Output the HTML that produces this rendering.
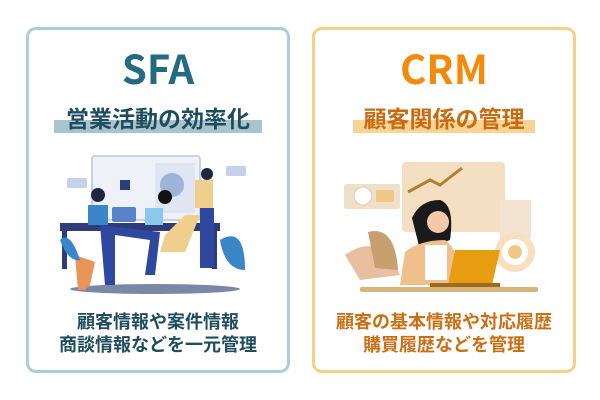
<!DOCTYPE html>
<html><head><meta charset="utf-8"><style>
body{margin:0;width:600px;height:400px;background:#fff;position:relative;overflow:hidden;font-family:"Noto Sans CJK JP","Liberation Sans",sans-serif}
.card{position:absolute;top:27px;width:258px;height:340px;border:3px solid;border-radius:10px;background:#fff}
.t{position:absolute;left:0;width:100%;text-align:center;font-weight:bold}
</style></head><body>
<div class="card" style="left:26px;border-color:#b0ccd6"></div>
<div class="card" style="left:312px;border-color:#f8cf8a"></div>

<div style="position:absolute;left:54px;top:120px;width:208px;height:13px;background:#a9c4cc"></div>
<div style="position:absolute;left:353px;top:120px;width:182px;height:13px;background:#fad494"></div>

<div class="t" style="left:26px;width:264px;top:42px;font-size:40px;color:#246a80;line-height:50px;font-family:'Noto Sans CJK JP','DejaVu Sans',sans-serif">SFA</div>
<div class="t" style="left:26px;width:264px;top:102px;font-size:23px;color:#1e4e5e;line-height:30px">営業活動の効率化</div>
<div class="t" style="left:26px;width:264px;top:310px;font-size:18px;color:#1f4d5e;line-height:23px">顧客情報や案件情報<br>商談情報などを一元管理</div>

<div class="t" style="left:312px;width:264px;top:42px;font-size:40px;color:#f58a0a;line-height:50px;font-family:'Noto Sans CJK JP','DejaVu Sans',sans-serif">CRM</div>
<div class="t" style="left:312px;width:264px;top:102px;font-size:23px;color:#c96b10;line-height:30px">顧客関係の管理</div>
<div class="t" style="left:312px;width:264px;top:310px;font-size:18px;color:#cc6e14;line-height:23px">顧客の基本情報や対応履歴<br>購買履歴などを管理</div>

<svg style="position:absolute;left:0;top:0" width="600" height="400">
<rect x="92" y="156" width="108" height="64" rx="3" fill="#eef1f8" stroke="#c9d0e6" stroke-width="2"/>
<rect x="155" y="163" width="40" height="50" fill="#dfe5f2"/>
<circle cx="172" cy="185" r="12" fill="#9fb3d8"/>
<rect x="120" y="180" width="10" height="10" fill="#2c3d7a"/>
<rect x="67" y="178" width="20" height="10" rx="2" fill="#c5d2ea"/>
<rect x="226" y="166" width="20" height="10" rx="2" fill="#c5d2ea"/>
<rect x="60" y="223" width="160" height="8" fill="#2e3d78"/>
<rect x="62" y="231" width="5" height="38" fill="#2e3d78"/>
<rect x="212" y="231" width="5" height="38" fill="#2e3d78"/>
<ellipse cx="155" cy="289" rx="85" ry="5" fill="#7c87a8"/>
<rect x="88" y="205" width="20" height="20" fill="#3a86c8"/>
<circle cx="98" cy="195" r="7" fill="#1e2640"/>
<rect x="112" y="207" width="24" height="15" rx="2" fill="#5a82c8"/>
<rect x="145" y="208" width="18" height="17" fill="#8cc8ee"/>
<circle cx="165" cy="197" r="7" fill="#111"/>
<path d="M165 235 L185 215 L200 215 L185 252 L160 252Z" fill="#f0cf8c"/>
<path d="M75 255 L95 262 L90 285 L85 290 L78 290Z" fill="#e8945a"/>
<path d="M60 240 Q70 230 80 260 Q68 262 60 240Z" fill="#3a86c8"/>
<path d="M220 240 Q245 225 245 270 Q225 270 220 240Z" fill="#3a86c8"/>
<rect x="195" y="180" width="18" height="28" fill="#f0cf8c"/>
<rect x="200" y="208" width="14" height="60" fill="#2e48a0"/>
<circle cx="207" cy="174" r="6" fill="#1e2640"/>
<path d="M100 225 L105 285 L115 285 L115 235 L150 240 L145 275 L155 275 L160 232Z" fill="#2e48a0"/>
<rect x="402" y="162" width="103" height="70" rx="4" fill="#f5dfc2"/>
<polyline points="408,192 430,180 440,185 462,168" fill="none" stroke="#b08030" stroke-width="3"/>
<rect x="344" y="184" width="56" height="25" rx="2" fill="#efe0cc"/>
<circle cx="363" cy="196" r="9" fill="#fff" stroke="#e8c898"/>
<rect x="376" y="190" width="18" height="12" fill="#f0c888"/>
<rect x="500" y="200" width="31" height="38" fill="#f2e4d0"/>
<circle cx="515" cy="252" r="20" fill="#f7e0c0"/>
<circle cx="515" cy="252" r="13" fill="#fff"/>
<circle cx="515" cy="252" r="7" fill="#f0c888"/>
<path d="M345 255 Q380 230 400 275 L360 280Z" fill="#e8c0a0"/>
<path d="M368 232 Q395 225 398 270 L375 268Z" fill="#c8a070"/>
<path d="M412 218 Q420 200 440 200 Q455 205 450 240 L420 250Z" fill="#1a1a1a"/>
<circle cx="438" cy="222" r="11" fill="#f5c8a8"/>
<path d="M405 252 Q420 240 445 240 Q460 250 460 285 L400 285Z" fill="#f0c08c"/>
<rect x="425" y="245" width="22" height="35" fill="#fff"/>
<path d="M455 250 L500 250 L492 285 L448 285Z" fill="#e89c10"/>
<rect x="430" y="283" width="70" height="4" fill="#9c6a20"/>
<rect x="360" y="287" width="178" height="5" rx="2" fill="#d8b478"/>
</svg>
</body></html>
